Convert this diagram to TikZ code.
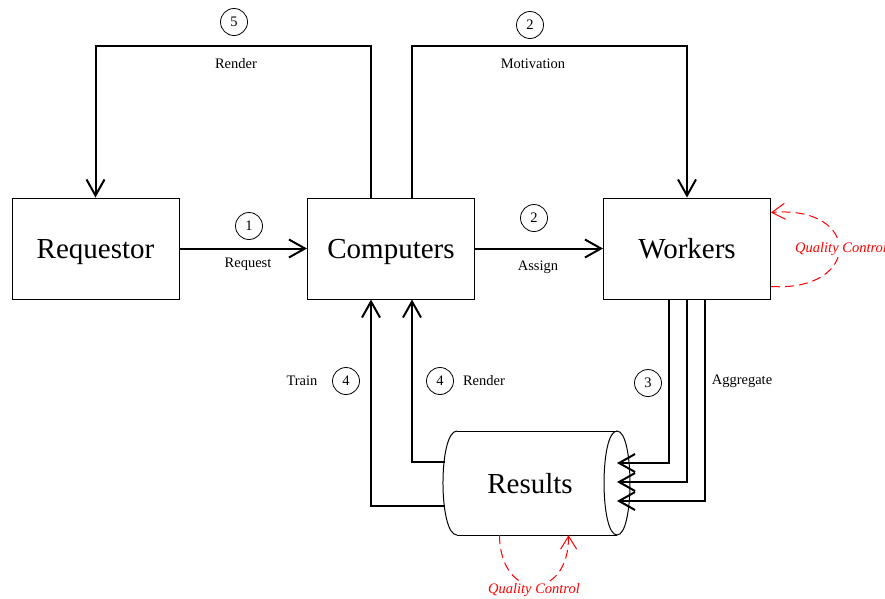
\documentclass[tikz,border=0pt]{standalone}
\usepackage{fontspec}
\setmainfont{Liberation Serif}
\usetikzlibrary{arrows.meta}

\tikzset{
  box/.style={draw,line width=1pt,minimum width=167pt,minimum height=101pt,inner sep=0pt,text depth=0pt,font=\fontsize{29}{34}\selectfont},
  num/.style={draw,circle,line width=0.8pt,minimum size=27pt,inner sep=0pt,font=\fontsize{14.5}{17}\selectfont},
  lbl/.style={inner sep=1pt,font=\fontsize{14.5}{17}\selectfont},
  conn/.style={line width=2pt,-{Straight Barb[length=16pt,width=18pt,line width=2pt]}},
  qc/.style={red,line width=1pt,dash pattern=on 9pt off 5pt,-{Straight Barb[length=13pt,width=16pt,line width=1pt]}},
  qclbl/.style={red,fill=white,inner sep=1pt,font=\fontsize{14.5}{17}\selectfont\itshape}
}

\begin{document}
\begin{tikzpicture}[x=1pt,y=-1pt]
\clip (0,0) rectangle (885,598);

% Boxes
\node[box] (req)  at (95.5,248.5) {Requestor};
\node[box] (comp) at (391,248.5)  {Computers};
\node[box] (work) at (687,248.5)  {Workers};

% Results store (cylinder lying on its side)
\node[minimum width=187pt,minimum height=104pt,inner sep=0pt] (res) at (536.5,483) {};
\draw[line width=1pt] (457,431) -- (617,431);
\draw[line width=1pt] (457,535) -- (617,535);
\draw[line width=1pt] (457,431) .. controls (438.3,431) and (438.3,535) .. (457,535);
\draw[line width=1pt] (617,431) .. controls (634.3,431) and (634.3,535) .. (617,535)
                                .. controls (599.7,535) and (599.7,431) .. (617,431) -- cycle;
\node[inner sep=0pt,text depth=0pt,font=\fontsize{29}{34}\selectfont] (resText) at (530,483) {Results};

% Arrival points on the results
\coordinate (r1) at (617,463);
\coordinate (r2) at (617,482);
\coordinate (r3) at (617,501);

% Straight connectors
\draw[conn] (req) -- (comp);
\draw[conn] (comp) -- (work);
\draw[conn] ([xshift=-20pt]comp.north) -- ++(0,-152) -| (req.north);
\draw[conn] ([xshift=21pt]comp.north) -- ++(0,-152) -| (work.north);
\draw[conn] ([xshift=-18pt]work.south) |- (r1);
\draw[conn] (work.south) |- (r2);
\draw[conn] ([xshift=18pt]work.south) |- (r3);
\draw[conn] ([shift={(2,-21)}]res.west) -| ([xshift=21pt]comp.south);
\draw[conn] ([shift={(2,23)}]res.west) -| ([xshift=-20pt]comp.south);

% Quality control loops
\draw[qc] ([shift={(0,38)}]work.east) .. controls (862,292) and (862,205) .. ([shift={(0,-36)}]work.east);
\draw[qc] ([shift={(-37,0)}]res.south) .. controls (500,602) and (569,602) .. ([shift={(32,0)}]res.south);

% Step numbers
\node[num] (n5)  at (234,22)  {5};
\node[num] (n2a) at (530,25)  {2};
\node[num] (n1)  at (249,226) {1};
\node[num] (n2b) at (534,218) {2};
\node[num] (n4a) at (346,381) {4};
\node[num] (n4b) at (440,381) {4};
\node[num] (n3)  at (648,383) {3};

% Text Node
\node[lbl] (tRenderTop) at (236,64)  {Render};
\node[lbl] (tMotiv)     at (533,64)  {Motivation};
\node[lbl] (tRequest)   at (248,264) {Request};
\node[lbl] (tAssign)    at (538,267) {Assign};
\node[lbl] (tTrain)     at (302,381) {Train};
\node[lbl] (tRender)    at (484,381) {Render};
\node[lbl] (tAggr)      at (742,381) {Aggregate};
\node[qclbl,anchor=west] (qcWork) at (794,249) {Quality Control};
\node[qclbl] (qcRes) at (534,590) {Quality Control};
\end{tikzpicture}
\end{document}
